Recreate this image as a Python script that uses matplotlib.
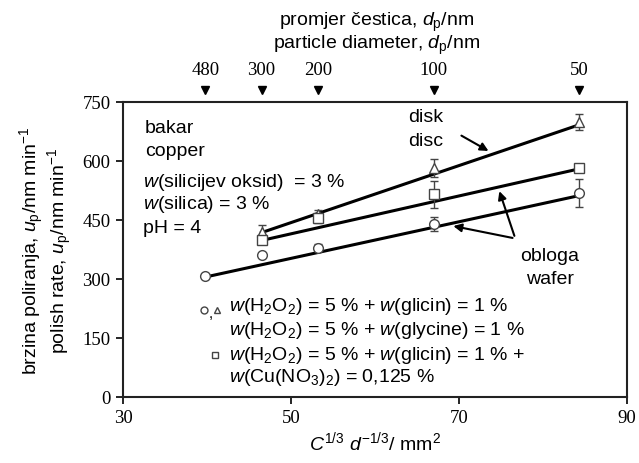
import matplotlib
matplotlib.use("Agg")
import matplotlib.pyplot as plt
import matplotlib.transforms as mtransforms

plt.rcParams['font.family'] = ['Liberation Sans', 'DejaVu Sans']
plt.rcParams['mathtext.fontset'] = 'custom'
plt.rcParams['mathtext.rm'] = 'Liberation Sans'
plt.rcParams['mathtext.it'] = 'Liberation Sans:italic'
plt.rcParams['mathtext.bf'] = 'Liberation Sans:bold'

# ---- data ----
particle_x = [39.8, 46.5, 53.2, 67.0, 84.3]
particle_labels = ['480', '300', '200', '100', '50']

circle_x = [39.8, 46.5, 53.2, 67.0, 84.3]
circle_y = [308, 362, 380, 440, 518]
circle_err = [0, 0, 8, 18, 35]

tri_x = [46.5, 53.2, 67.0, 84.3]
tri_y = [420, 465, 582, 700]
tri_err = [18, 10, 22, 20]

sq_x = [46.5, 53.2, 67.0, 84.3]
sq_y = [400, 455, 515, 582]
sq_err = [8, 12, 35, 8]

# trend lines (endpoints as drawn)
circle_fit_x = [39.8, 84.3]
circle_fit_y = [305, 512]
tri_fit_x = [46.5, 84.3]
tri_fit_y = [418, 692]
sq_fit_x = [46.5, 84.3]
sq_fit_y = [398, 580]

xticks = [30, 50, 70, 90]
yticks = [0, 150, 300, 450, 600, 750]

fig = plt.figure(figsize=(6.39, 4.64), dpi=100)
ax = fig.add_axes([123/639, 1-398/464, (627-123)/639, (398-103)/464])

ax.plot(circle_fit_x, circle_fit_y, color='black', lw=2.2, zorder=2)
ax.plot(tri_fit_x, tri_fit_y, color='black', lw=2.2, zorder=2)
ax.plot(sq_fit_x, sq_fit_y, color='black', lw=2.2, zorder=2)

ekw = dict(color='black', ecolor='#444444', elinewidth=1.0, capsize=3, capthick=1.0,
           ls='none', mfc='white', mec='#444444', mew=1.0, ms=7, zorder=3)
ax.errorbar(circle_x, circle_y, yerr=circle_err, marker='o', **ekw)
ax.errorbar(tri_x, tri_y, yerr=tri_err, marker='^', **ekw)
ax.errorbar(sq_x, sq_y, yerr=sq_err, marker='s', **ekw)

ax.set_xlim(30, 90)
ax.set_ylim(0, 750)
ax.set_xticks(xticks)
ax.set_yticks(yticks)
for lab in ax.get_xticklabels() + ax.get_yticklabels():
    lab.set_fontfamily('Liberation Serif')
    lab.set_fontsize(13.5)
ax.tick_params(axis='both', direction='out', length=5, width=1.2, pad=4)
for s in ax.spines.values():
    s.set_linewidth(1.5)
    s.set_color('#222222')

ax.set_xlabel(r'$C^{1/3}\ d^{-1/3}$/ mm$^2$', fontsize=14, labelpad=2)
ax.set_ylabel('brzina poliranja, $u_\\mathrm{p}$/nm min$^{-1}$\npolish rate, $u_\\mathrm{p}$/nm min$^{-1}$',
              fontsize=14, labelpad=6, linespacing=1.0)

# top particle-diameter scale
trans = mtransforms.blended_transform_factory(ax.transData, ax.transAxes)
ax.plot(particle_x, [1.04]*len(particle_x), ls='none', marker='v', color='black',
        ms=6, transform=trans, clip_on=False)
for xv, lab in zip(particle_x, particle_labels):
    ax.text(xv, 1.11, lab, transform=trans, ha='center', va='center',
            fontsize=13.5, family='Liberation Serif')
fig.text(377/639, 1-22/464, 'promjer čestica, $d_\\mathrm{p}$/nm', ha='center', va='center', fontsize=14)
fig.text(377/639, 1-45/464, 'particle diameter, $d_\\mathrm{p}$/nm', ha='center', va='center', fontsize=14)

# annotations
ax.text(32.6, 686, 'bakar', fontsize=14, va='center')
ax.text(32.6, 627, 'copper', fontsize=14, va='center')
ax.text(32.4, 547, '$w$(silicijev oksid)  = 3 %', fontsize=14, va='center')
ax.text(32.4, 492, '$w$(silica) = 3 %', fontsize=14, va='center')
ax.text(32.4, 432, 'pH = 4', fontsize=14, va='center')

ax.text(66.0, 712, 'disk', fontsize=14, ha='center', va='center')
ax.text(66.0, 652, 'disc', fontsize=14, ha='center', va='center')
ax.annotate('', xy=(73.8, 622), xytext=(70.0, 668),
            arrowprops=dict(arrowstyle='-|>', color='black', lw=1.5, mutation_scale=12))

ax.text(80.8, 360, 'obloga', fontsize=14, ha='center', va='center')
ax.text(80.8, 301, 'wafer', fontsize=14, ha='center', va='center')
ax.annotate('', xy=(74.7, 530), xytext=(76.7, 403),
            arrowprops=dict(arrowstyle='-|>', color='black', lw=1.5, mutation_scale=12))
ax.annotate('', xy=(69.0, 436), xytext=(76.7, 403),
            arrowprops=dict(arrowstyle='-|>', color='black', lw=1.5, mutation_scale=12))

# legend-like text
ax.plot([39.7], [220], marker='o', ms=5, mfc='white', mec='#444444', ls='none')
ax.text(40.2, 214, ',', fontsize=11, va='center')
ax.plot([41.2], [220], marker='^', ms=5, mfc='white', mec='#444444', ls='none')
ax.text(42.6, 232, '$w$(H$_2$O$_2$) = 5 % + $w$(glicin) = 1 %', fontsize=14, va='center')
ax.text(42.6, 172, '$w$(H$_2$O$_2$) = 5 % + $w$(glycine) = 1 %', fontsize=14, va='center')
ax.plot([41.0], [106], marker='s', ms=5, mfc='white', mec='#444444', ls='none')
ax.text(42.6, 108, '$w$(H$_2$O$_2$) = 5 % + $w$(glicin) = 1 % +', fontsize=14, va='center')
ax.text(42.6, 52, '$w$(Cu(NO$_3$)$_2$) = 0,125 %', fontsize=14, va='center')

fig.savefig('out.png', dpi=100)
